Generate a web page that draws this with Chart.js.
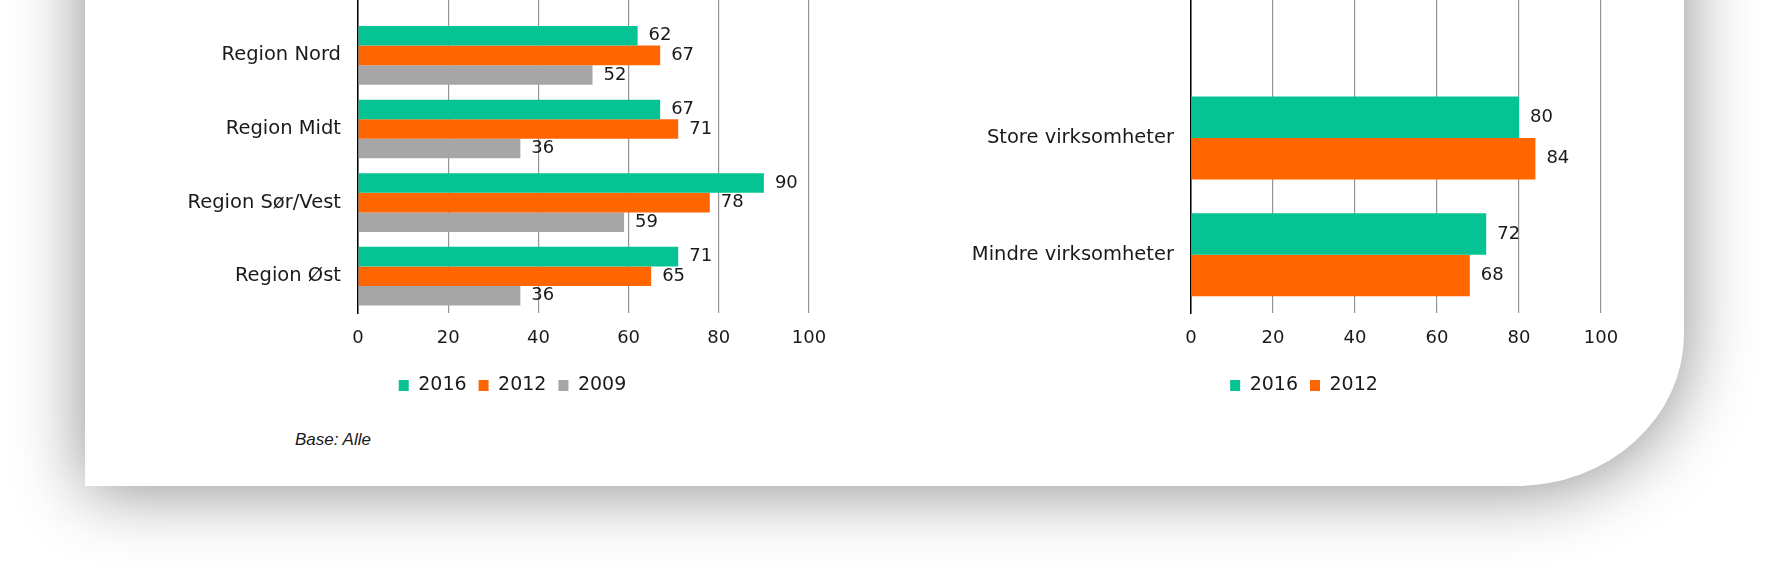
<!DOCTYPE html>
<html>
<head>
<meta charset="utf-8">
<script src="https://cdn.jsdelivr.net/npm/chart.js@4/dist/chart.umd.min.js"></script>
<style>
  html, body { margin: 0; padding: 0; background: #ffffff; }
  body { width: 1769px; height: 572px; position: relative; overflow: hidden; font-family: "DejaVu Sans", sans-serif; }
  #card { position: absolute; left: 85px; top: -200px; width: 1599px; height: 686px; background: #ffffff;
          border-bottom-right-radius: 168px 152px; box-shadow: 0 4px 70px rgba(0,0,0,0.45); }
  canvas { position: absolute; }
  #c1 { left: 108px; top: -95px; }
  #c2 { left: 941px; top: -77px; }
  #note { position: absolute; left: 295px; top: 431px; font: italic 17px "Liberation Sans", Arial, sans-serif; line-height: 17px; color: #1a1a1a; }
</style>
</head>
<body>
<div id="card"></div>
<canvas id="c1" width="809" height="510"></canvas>
<canvas id="c2" width="726" height="492"></canvas>
<div id="note">Base: Alle</div>
<script>
// ---- data ----
const regions = ['Region Nord', 'Region Midt', 'Region Sør/Vest', 'Region Øst'];
const regions2016 = [62, 67, 90, 71];
const regions2012 = [67, 71, 78, 65];
const regions2009 = [52, 36, 59, 36];

const sizes = ['Store virksomheter', 'Mindre virksomheter'];
const sizes2016 = [80, 72];
const sizes2012 = [84, 68];

const xTicks = [0, 20, 40, 60, 80, 100];
const seriesNames = ['2016', '2012', '2009'];

// ---- styles ----
const TEAL = '#06C393', ORANGE = '#FF6600', GREY = '#A6A6A6';
const TXT = '#1a1a1a';
const FAM = 'DejaVu Sans';

const valueLabels = {
  id: 'valueLabels',
  afterDatasetsDraw(chart, args, opts) {
    const ctx = chart.ctx;
    ctx.save();
    ctx.font = opts.size + 'px ' + FAM;
    ctx.fillStyle = TXT;
    ctx.textAlign = 'left';
    ctx.textBaseline = 'middle';
    chart.data.datasets.forEach((ds, i) => {
      const meta = chart.getDatasetMeta(i);
      meta.data.forEach((bar, j) => {
        const v = ds.data[j];
        if (v === null || v === undefined) return;
        ctx.fillText(String(v), bar.x + opts.offset, bar.y);
      });
    });
    ctx.restore();
  }
};

function makeChart(id, labels, datasets, catPct, rightPad) {
  return new Chart(document.getElementById(id), {
    type: 'bar',
    data: { labels: [''].concat(labels), datasets: datasets },
    options: {
      indexAxis: 'y',
      responsive: false,
      animation: false,
      layout: { padding: { top: 40, left: 0, right: 0, bottom: 10 } },
      datasets: { bar: { categoryPercentage: catPct, barPercentage: 1, borderWidth: 0 } },
      scales: {
        x: {
          type: 'linear', min: 0, max: 100,
          afterBuildTicks: s => { s.ticks = xTicks.map(v => ({ value: v })); },
          ticks: { padding: 15, color: TXT, font: { family: FAM, size: 18 } },
          grid: { color: '#959595', lineWidth: 1.2, drawTicks: false },
          border: { display: false },
          afterFit: s => { s.height = 51; }
        },
        y: {
          type: 'category', position: 'left',
          grid: { display: false, drawTicks: false },
          border: { display: true, color: '#000000', width: 1.5 },
          ticks: { padding: 17, color: TXT, font: { family: FAM, size: 19.5 } },
          afterFit: s => { s.width = 250; }
        },
        y2: {
          type: 'category', position: 'right',
          grid: { display: false, drawTicks: false },
          border: { display: false },
          ticks: { display: false },
          afterFit: s => { s.width = rightPad; }
        }
      },
      plugins: {
        legend: {
          position: 'bottom',
          labels: { boxWidth: 10, boxHeight: 11, padding: 12, color: TXT, font: { family: FAM, size: 19 } }
        },
        tooltip: { enabled: false },
        valueLabels: { size: 18, offset: 11 }
      }
    },
    plugins: [valueLabels]
  });
}

makeChart('c1', regions, [
  { label: seriesNames[0], data: [null].concat(regions2016), backgroundColor: TEAL },
  { label: seriesNames[1], data: [null].concat(regions2012), backgroundColor: ORANGE },
  { label: seriesNames[2], data: [null].concat(regions2009), backgroundColor: GREY }
], 0.798, 108);

makeChart('c2', sizes, [
  { label: seriesNames[0], data: [null].concat(sizes2016), backgroundColor: TEAL },
  { label: seriesNames[1], data: [null].concat(sizes2012), backgroundColor: ORANGE }
], 0.712, 66);
</script>
</body>
</html>
